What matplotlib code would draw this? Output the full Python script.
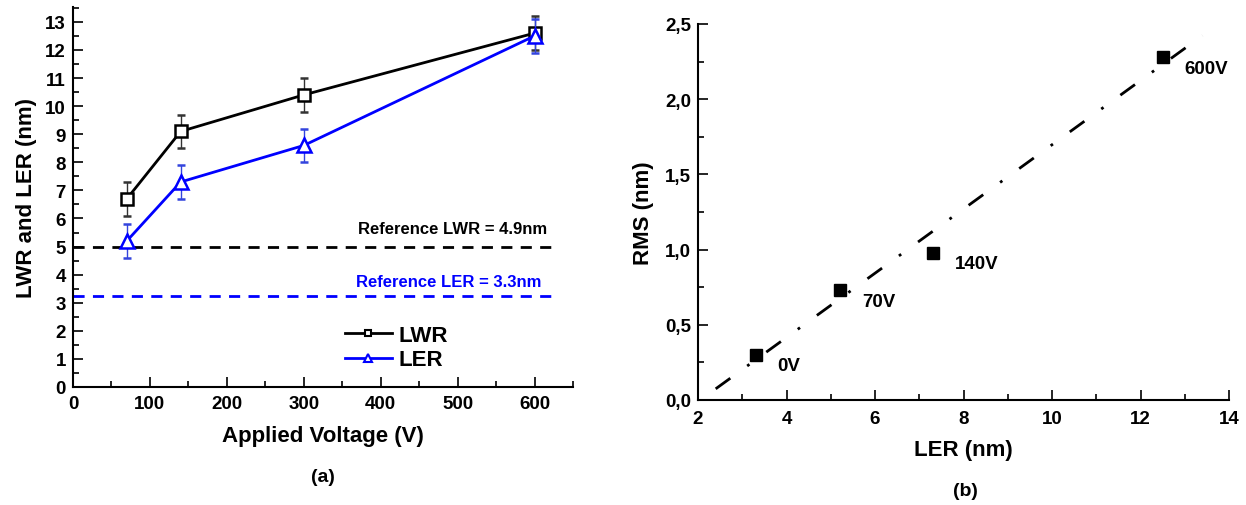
import numpy as np
import matplotlib
matplotlib.use("Agg")
import matplotlib.pyplot as plt
from matplotlib.lines import Line2D
from matplotlib.ticker import MultipleLocator, FuncFormatter

plt.rcParams['font.family'] = ['Liberation Sans', 'DejaVu Sans']
plt.rcParams['font.weight'] = 'bold'
plt.rcParams['axes.labelweight'] = 'bold'

# (a) roughness vs applied voltage
voltage = [70, 140, 300, 600]
lwr = [6.7, 9.1, 10.4, 12.6]
lwr_err = [0.6, 0.6, 0.6, 0.6]
ler = [5.2, 7.3, 8.6, 12.5]
ler_err = [0.6, 0.6, 0.6, 0.6]
ref_lwr = 5.0
ref_ler = 3.25

# (b) RMS vs LER
ler_b = [3.3, 5.2, 7.3, 12.5]
rms_b = [0.30, 0.73, 0.98, 2.28]
point_labels = ["0V", "70V", "140V", "600V"]
fit_range = [2.4, 13.4]

W, H = 1246, 506
fig = plt.figure(figsize=(W / 100, H / 100), dpi=100)

# ---------------- panel (a)
ax1 = fig.add_axes([73 / W, 1 - 388 / H, 500 / W, 380 / H])
ax1.errorbar(voltage, lwr, yerr=lwr_err, color='black', lw=2, marker='s',
             ms=9, mfc='white', mec='black', mew=1.8, capsize=3,
             elinewidth=1, ecolor='#333333', zorder=3)
ax1.errorbar(voltage, ler, yerr=ler_err, color='blue', lw=2, marker='^',
             ms=10, mfc='white', mec='blue', mew=1.8, capsize=3,
             elinewidth=1, ecolor='#3344dd', zorder=4)
ax1.plot([0, 626], [ref_lwr, ref_lwr], ls=(0, (4, 3)), color='black', lw=2)
ax1.plot([0, 626], [ref_ler, ref_ler], ls=(0, (4, 3)), color='blue', lw=2)
ax1.text(617, 5.63, "Reference LWR = 4.9nm", ha='right', va='center',
         fontsize=12, color='black')
ax1.text(609, 3.74, "Reference LER = 3.3nm", ha='right', va='center',
         fontsize=12, color='blue')

ax1.set_xlim(0, 650)
ax1.set_ylim(0, 13.53)
ax1.xaxis.set_major_locator(MultipleLocator(100))
ax1.xaxis.set_minor_locator(MultipleLocator(50))
ax1.yaxis.set_major_locator(MultipleLocator(1))
ax1.yaxis.set_minor_locator(MultipleLocator(0.5))
for s in ['top', 'right']:
    ax1.spines[s].set_visible(False)
for s in ['left', 'bottom']:
    ax1.spines[s].set_linewidth(1.5)
ax1.tick_params(which='major', direction='in', length=7, width=1.2, labelsize=13.5)
ax1.tick_params(which='minor', direction='in', length=4, width=1.2)
ax1.tick_params(axis='y', pad=5)
ax1.tick_params(axis='x', pad=6)
ax1.set_xlabel("Applied Voltage (V)", fontsize=16, labelpad=9)
ax1.set_ylabel("LWR and LER (nm)", fontsize=16, labelpad=6)

handles = [
    Line2D([], [], color='black', lw=2, marker='s', ms=5, mfc='white',
           mec='black', mew=1.5),
    Line2D([], [], color='blue', lw=2, marker='^', ms=6, mfc='white',
           mec='blue', mew=1.5),
]
ax1.legend(handles, ['LWR', 'LER'], loc='upper left',
           bbox_to_anchor=((345 - 73) / 500, (388 - 326) / 380),
           frameon=False, fontsize=16, handlelength=2.1, handletextpad=0.3,
           labelspacing=0.15, borderpad=0, borderaxespad=0)
fig.text(323 / W, 1 - 478 / H, "(a)", ha='center', va='center', fontsize=14)

# ---------------- panel (b)
ax2 = fig.add_axes([698 / W, 1 - 401 / H, 531 / W, 376 / H])
coef = np.polyfit(ler_b, rms_b, 1)
xf = np.array(fit_range)
ax2.plot(xf, np.polyval(coef, xf), color='black', lw=2,
         ls=(0, (6.5, 7.5, 1, 7.5)), zorder=2)
ax2.plot(ler_b, rms_b, ls='none', marker='s', ms=8.5, color='black', zorder=3)
for x, y, t in zip(ler_b, rms_b, point_labels):
    ax2.annotate(t, (x, y), xytext=(16, -8), textcoords='offset points',
                 fontsize=13.5, ha='left', va='center')

ax2.set_xlim(2, 14)
ax2.set_ylim(0, 2.5)
ax2.xaxis.set_major_locator(MultipleLocator(2))
ax2.xaxis.set_minor_locator(MultipleLocator(1))
ax2.yaxis.set_major_locator(MultipleLocator(0.5))
ax2.yaxis.set_minor_locator(MultipleLocator(0.25))
ax2.yaxis.set_major_formatter(FuncFormatter(lambda v, p: f"{v:.1f}".replace('.', ',')))
for s in ['top', 'right']:
    ax2.spines[s].set_visible(False)
for s in ['left', 'bottom']:
    ax2.spines[s].set_linewidth(1.5)
ax2.tick_params(which='major', direction='in', length=7, width=1.2, labelsize=13.5)
ax2.tick_params(which='minor', direction='in', length=4, width=1.2)
ax2.tick_params(axis='y', pad=5)
ax2.tick_params(axis='x', pad=7)
ax2.set_xlabel("LER (nm)", fontsize=16, labelpad=9)
ax2.set_ylabel("RMS (nm)", fontsize=16, labelpad=8)
fig.text(965 / W, 1 - 492 / H, "(b)", ha='center', va='center', fontsize=14)

fig.savefig("out.png", dpi=100)
